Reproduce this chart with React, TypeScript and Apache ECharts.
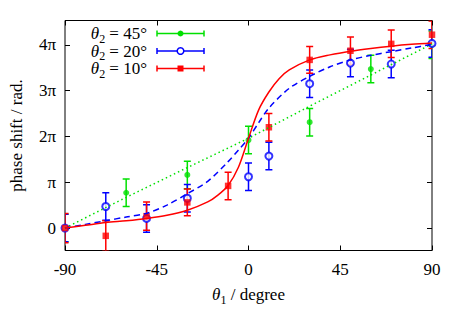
import React, { useEffect, useRef } from 'react';
import * as echarts from 'echarts';

// ---- data (y values in units of π) ----
const xTicks = [-90, -45, 0, 45, 90];
const yTickValues = [0, 1, 2, 3, 4];
const yTickLabels = ['0', 'π', '2π', '3π', '4π'];

const s45X = [-90, -60, -30, 0, 30, 60, 90];
const s45Y = [0, 0.77, 1.16, 1.92, 2.31, 3.47, 4.0];
const s45E = [0.3, 0.3, 0.3, 0.3, 0.3, 0.3, 0.3];

const s20X = [-90, -70, -50, -30, 0, 10, 30, 50, 70, 90];
const s20Y = [0, 0.47, 0.21, 0.65, 1.12, 1.57, 3.15, 3.6, 3.58, 4.03];
const s20E = [0.3, 0.3, 0.3, 0.3, 0.3, 0.3, 0.3, 0.3, 0.3, 0.3];

const s10X = [-90, -70, -50, -30, -10, 10, 30, 50, 70, 90];
const s10Y = [0, -0.17, 0.26, 0.56, 0.92, 2.2, 3.67, 3.87, 4.02, 4.22];
const s10E = [0.32, 0.33, 0.31, 0.29, 0.3, 0.3, 0.29, 0.3, 0.3, 0.3];

const fit45X = [-90, -60, -30, 0, 30, 60, 90];
const fit45Y = [0, 0.67, 1.32, 1.96, 2.66, 3.34, 4.02];

const fit20X = [-90, -80, -70, -60, -50, -40, -30, -20, -10, -5, 0, 5, 10, 20, 30, 40, 50, 60, 70, 80, 90];
const fit20Y = [0, 0.08, 0.16, 0.24, 0.32, 0.5, 0.75, 1.02, 1.45, 1.7, 1.96, 2.3, 2.62, 3.05, 3.31, 3.52, 3.67, 3.77, 3.85, 3.93, 4.01];

const fit10X = [-90, -80, -70, -60, -50, -40, -30, -20, -15, -10, -5, 0, 5, 10, 15, 20, 30, 40, 50, 60, 70, 80, 90];
const fit10Y = [0, 0.06, 0.12, 0.16, 0.21, 0.28, 0.39, 0.57, 0.72, 0.93, 1.32, 1.96, 2.58, 2.97, 3.26, 3.45, 3.67, 3.78, 3.86, 3.92, 3.97, 4.01, 4.04];

const GREEN = '#00e000';
const BLUE = '#0000ff';
const RED = '#ff0000';
const FONT = 'Liberation Serif';
const FS = 17;

const zip2 = (a: number[], b: number[]) => a.map((v, i) => [v, b[i]]);
const zip3 = (a: number[], b: number[], c: number[]) => a.map((v, i) => [v, b[i], c[i]]);

const errRender = (color: string) => (params: any, api: any) => {
  const x = api.value(0), y = api.value(1), e = api.value(2);
  const top = api.coord([x, y + e]);
  const bot = api.coord([x, y - e]);
  const w = 3.5;
  const style = { stroke: color, lineWidth: 1.5 };
  return {
    type: 'group',
    children: [
      { type: 'line', shape: { x1: top[0], y1: top[1], x2: bot[0], y2: bot[1] }, style },
      { type: 'line', shape: { x1: top[0] - w, y1: top[1], x2: top[0] + w, y2: top[1] }, style },
      { type: 'line', shape: { x1: bot[0] - w, y1: bot[1], x2: bot[0] + w, y2: bot[1] }, style },
    ],
  };
};

const legendRows = [
  { label: '45', color: GREEN, kind: 'dot' },
  { label: '20', color: BLUE, kind: 'ring' },
  { label: '10', color: RED, kind: 'square' },
];

const richSub = {
  i: { fontStyle: 'italic', fontSize: FS, fontFamily: FONT },
  s: { fontSize: 12, fontFamily: FONT, padding: [10, 0, 0, 0] },
};

export default function App() {
  const ref = useRef<HTMLDivElement>(null);
  useEffect(() => {
    const chart = echarts.init(ref.current!, null, { renderer: 'svg' });
    const rowY = [33.5, 51, 68.5];
    const graphics: any[] = [];
    legendRows.forEach((r, i) => {
      const y = rowY[i];
      graphics.push({
        type: 'text', x: 147, y, style: {
          text: '{i|θ}{s|2} = ' + r.label + '°', align: 'right', verticalAlign: 'middle',
          fill: '#000', font: `${FS}px "${FONT}"`,
          rich: richSub,
        },
      });
      const st = { stroke: r.color, lineWidth: 1.5 };
      graphics.push({ type: 'line', shape: { x1: 157, y1: y, x2: 204, y2: y }, style: st });
      graphics.push({ type: 'line', shape: { x1: 157, y1: y - 3, x2: 157, y2: y + 3 }, style: st });
      graphics.push({ type: 'line', shape: { x1: 204, y1: y - 3, x2: 204, y2: y + 3 }, style: st });
      if (r.kind === 'dot') graphics.push({ type: 'circle', shape: { cx: 180.5, cy: y, r: 3 }, style: { fill: r.color } });
      if (r.kind === 'ring') graphics.push({ type: 'circle', shape: { cx: 180.5, cy: y, r: 3.3 }, style: { fill: '#fff', stroke: r.color, lineWidth: 1.5 } });
      if (r.kind === 'square') graphics.push({ type: 'rect', shape: { x: 177.5, y: y - 3, width: 6, height: 6 }, style: { fill: r.color } });
    });

    const yMin = -0.49, yMax = 4.53;
    const tick = { inside: true, length: 5, lineStyle: { color: '#000' } };
    chart.setOption({
      animation: false,
      backgroundColor: '#fff',
      textStyle: { fontFamily: FONT },
      grid: { left: 64, right: 31, top: 20.5, bottom: 73.5, show: true, borderColor: '#000', borderWidth: 1 },
      xAxis: [
        {
          type: 'value', min: -90, max: 90, interval: 45, position: 'bottom',
          axisLine: { show: false, onZero: false }, splitLine: { show: false },
          axisTick: { ...tick, customValues: xTicks },
          axisLabel: { color: '#000', fontSize: FS, fontFamily: FONT, margin: 10, customValues: xTicks, formatter: (v: number) => String(v) },
          name: '{i|θ}{s|1} / degree', nameLocation: 'middle', nameGap: 33,
          nameTextStyle: { color: '#000', fontSize: FS, fontFamily: FONT, rich: richSub },
        },
        {
          type: 'value', min: -90, max: 90, interval: 45, position: 'top',
          axisLine: { show: false, onZero: false }, splitLine: { show: false },
          axisTick: { ...tick, customValues: xTicks },
          axisLabel: { show: false },
        },
      ],
      yAxis: [
        {
          type: 'value', min: yMin, max: yMax, position: 'left',
          axisLine: { show: false, onZero: false }, splitLine: { show: false },
          axisTick: { ...tick, customValues: yTickValues },
          axisLabel: {
            color: '#000', fontSize: FS, fontFamily: FONT, margin: 9, customValues: yTickValues,
            formatter: (v: number) => yTickLabels[yTickValues.indexOf(Math.round(v))] ?? '',
          },
          name: 'phase shift / rad.', nameLocation: 'middle', nameGap: 40,
          nameTextStyle: { color: '#000', fontSize: FS, fontFamily: FONT },
        },
        {
          type: 'value', min: yMin, max: yMax, position: 'right',
          axisLine: { show: false, onZero: false }, splitLine: { show: false },
          axisTick: { ...tick, customValues: yTickValues },
          axisLabel: { show: false },
        },
      ],
      graphic: graphics,
      series: [
        { type: 'custom', name: 'e45', renderItem: errRender(GREEN), data: zip3(s45X, s45Y, s45E), clip: true, z: 2 },
        { type: 'scatter', name: 's45', data: zip2(s45X, s45Y), symbol: 'circle', symbolSize: 6, itemStyle: { color: GREEN }, z: 3 },
        { type: 'custom', name: 'e20', renderItem: errRender(BLUE), data: zip3(s20X, s20Y, s20E), clip: true, z: 2 },
        { type: 'scatter', name: 's20', data: zip2(s20X, s20Y), symbol: 'emptyCircle', symbolSize: 7, itemStyle: { color: BLUE, borderColor: BLUE, borderWidth: 1.5 }, z: 3 },
        { type: 'custom', name: 'e10', renderItem: errRender(RED), data: zip3(s10X, s10Y, s10E), clip: true, z: 2 },
        { type: 'scatter', name: 's10', data: zip2(s10X, s10Y), symbol: 'rect', symbolSize: 6.5, itemStyle: { color: RED }, z: 3 },
        { type: 'line', name: 'f45', data: zip2(fit45X, fit45Y), showSymbol: false, symbol: 'none', lineStyle: { color: GREEN, width: 1.5, type: [1.5, 3] }, z: 4 },
        { type: 'line', name: 'f20', data: zip2(fit20X, fit20Y), smooth: 0.3, showSymbol: false, symbol: 'none', lineStyle: { color: BLUE, width: 1.5, type: [6, 4] }, z: 4 },
        { type: 'line', name: 'f10', data: zip2(fit10X, fit10Y), smooth: 0.3, showSymbol: false, symbol: 'none', lineStyle: { color: RED, width: 1.5 }, z: 4 },
      ],
    });
    return () => chart.dispose();
  }, []);
  return <div ref={ref} style={{ width: 463, height: 324, position: 'absolute', left: 0, top: 0 }} />;
}
